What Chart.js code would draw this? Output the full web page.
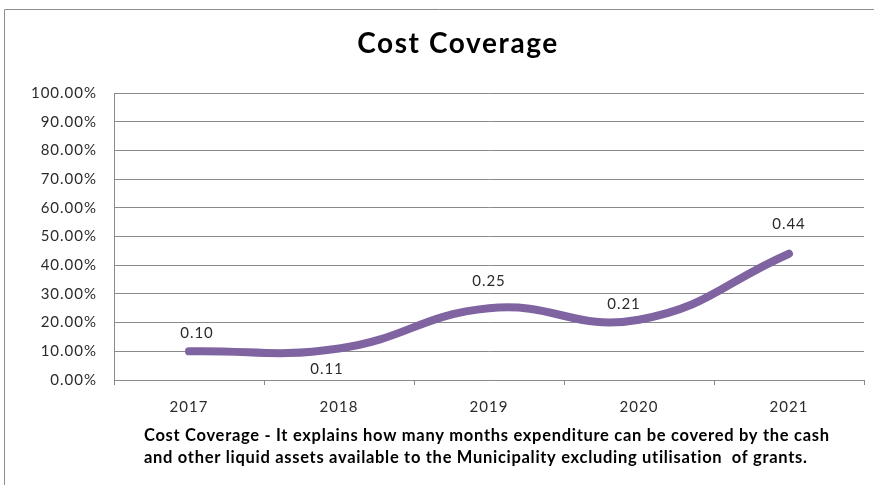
<!DOCTYPE html>
<html>
<head>
<meta charset="utf-8">
<script src="https://cdn.jsdelivr.net/npm/chart.js@4.4.1/dist/chart.umd.min.js"></script>
<style>
  html, body { margin: 0; padding: 0; background: #ffffff; }
  canvas { display: block; }
</style>
</head>
<body>
<canvas id="chart" width="874" height="485"></canvas>
<script>
// Cost coverage ratio per financial year
const years = ['2017', '2018', '2019', '2020', '2021'];
const costCoverage = [0.10, 0.11, 0.25, 0.21, 0.44];
const valueLabels = ['0.10', '0.11', '0.25', '0.21', '0.44'];

const chartTitle = 'Cost Coverage';
const noteLines = [
  'Cost Coverage - It explains how many months expenditure can be covered by the cash',
  'and other liquid assets available to the Municipality excluding utilisation  of grants.'
];

const FONT = 'Lato, "Open Sans", sans-serif';
const GRID = '#8a8a8a';
const TEXT = '#2b2b2b';

// where each value label sits relative to its point
const labelShift = [
  { dx: 8, dy: -18 },
  { dx: -12, dy: 21 },
  { dx: 0, dy: -27 },
  { dx: -15, dy: -16 },
  { dx: 0, dy: -30 }
];

const decorations = {
  id: 'decorations',
  beforeDraw(chart) {
    const ctx = chart.ctx;
    ctx.save();
    ctx.fillStyle = '#ffffff';
    ctx.fillRect(0, 0, chart.width, chart.height);
    // outer frame
    ctx.strokeStyle = '#8e8e8e';
    ctx.lineWidth = 1;
    ctx.beginPath();
    ctx.moveTo(4.5, chart.height);
    ctx.lineTo(4.5, 9.5);
    ctx.lineTo(chart.width, 9.5);
    ctx.stroke();
    ctx.restore();
    // slightly open tracking for the axis text
    ctx.letterSpacing = '1px';
  },
  afterDraw(chart) {
    const ctx = chart.ctx;
    ctx.save();
    // title
    ctx.fillStyle = '#000000';
    ctx.font = 'bold 28px ' + FONT;
    ctx.letterSpacing = '1.6px';
    ctx.textAlign = 'center';
    ctx.textBaseline = 'alphabetic';
    ctx.fillText(chartTitle, 458, 53);
    // explanatory note under the axis
    ctx.font = 'bold 16.5px ' + FONT;
    ctx.letterSpacing = '0.7px';
    ctx.textAlign = 'left';
    ctx.fillText(noteLines[0], 144, 441);
    ctx.fillText(noteLines[1], 144, 463);
    ctx.restore();
  },
  afterDatasetsDraw(chart) {
    const ctx = chart.ctx;
    const meta = chart.getDatasetMeta(0);
    ctx.save();
    ctx.fillStyle = TEXT;
    ctx.font = '15px ' + FONT;
    ctx.letterSpacing = '1px';
    ctx.textAlign = 'center';
    ctx.textBaseline = 'middle';
    meta.data.forEach((pt, i) => {
      const s = labelShift[i];
      ctx.fillText(valueLabels[i], pt.x + s.dx, pt.y + s.dy);
    });
    ctx.restore();
  }
};

new Chart(document.getElementById('chart'), {
  type: 'line',
  data: {
    labels: years,
    datasets: [{
      data: costCoverage,
      borderColor: '#8064A2',
      borderWidth: 8,
      borderCapStyle: 'round',
      borderJoinStyle: 'round',
      tension: 0.45,
      pointRadius: 0,
      pointHoverRadius: 0,
      fill: false
    }]
  },
  options: {
    responsive: false,
    animation: false,
    devicePixelRatio: 1,
    layout: { padding: { left: 0, top: 93, right: 10, bottom: 0 } },
    plugins: {
      legend: { display: false },
      title: { display: false },
      tooltip: { enabled: false }
    },
    scales: {
      x: {
        offset: true,
        grid: {
          offset: true,
          drawOnChartArea: false,
          drawTicks: true,
          tickLength: 5,
          color: GRID
        },
        border: { color: GRID, width: 1 },
        ticks: {
          color: TEXT,
          font: { family: FONT, size: 15 },
          padding: 13,
          maxRotation: 0
        },
        afterFit(scale) { scale.height = 105; }
      },
      y: {
        min: 0,
        max: 1,
        grid: { color: GRID, drawTicks: false },
        border: { color: GRID, width: 1 },
        ticks: {
          stepSize: 0.1,
          color: TEXT,
          font: { family: FONT, size: 15 },
          padding: 17,
          callback: v => (Math.round(v * 1000) / 10).toFixed(2) + '%'
        },
        afterFit(scale) { scale.width = 114; }
      }
    }
  },
  plugins: [decorations]
});
</script>
</body>
</html>
